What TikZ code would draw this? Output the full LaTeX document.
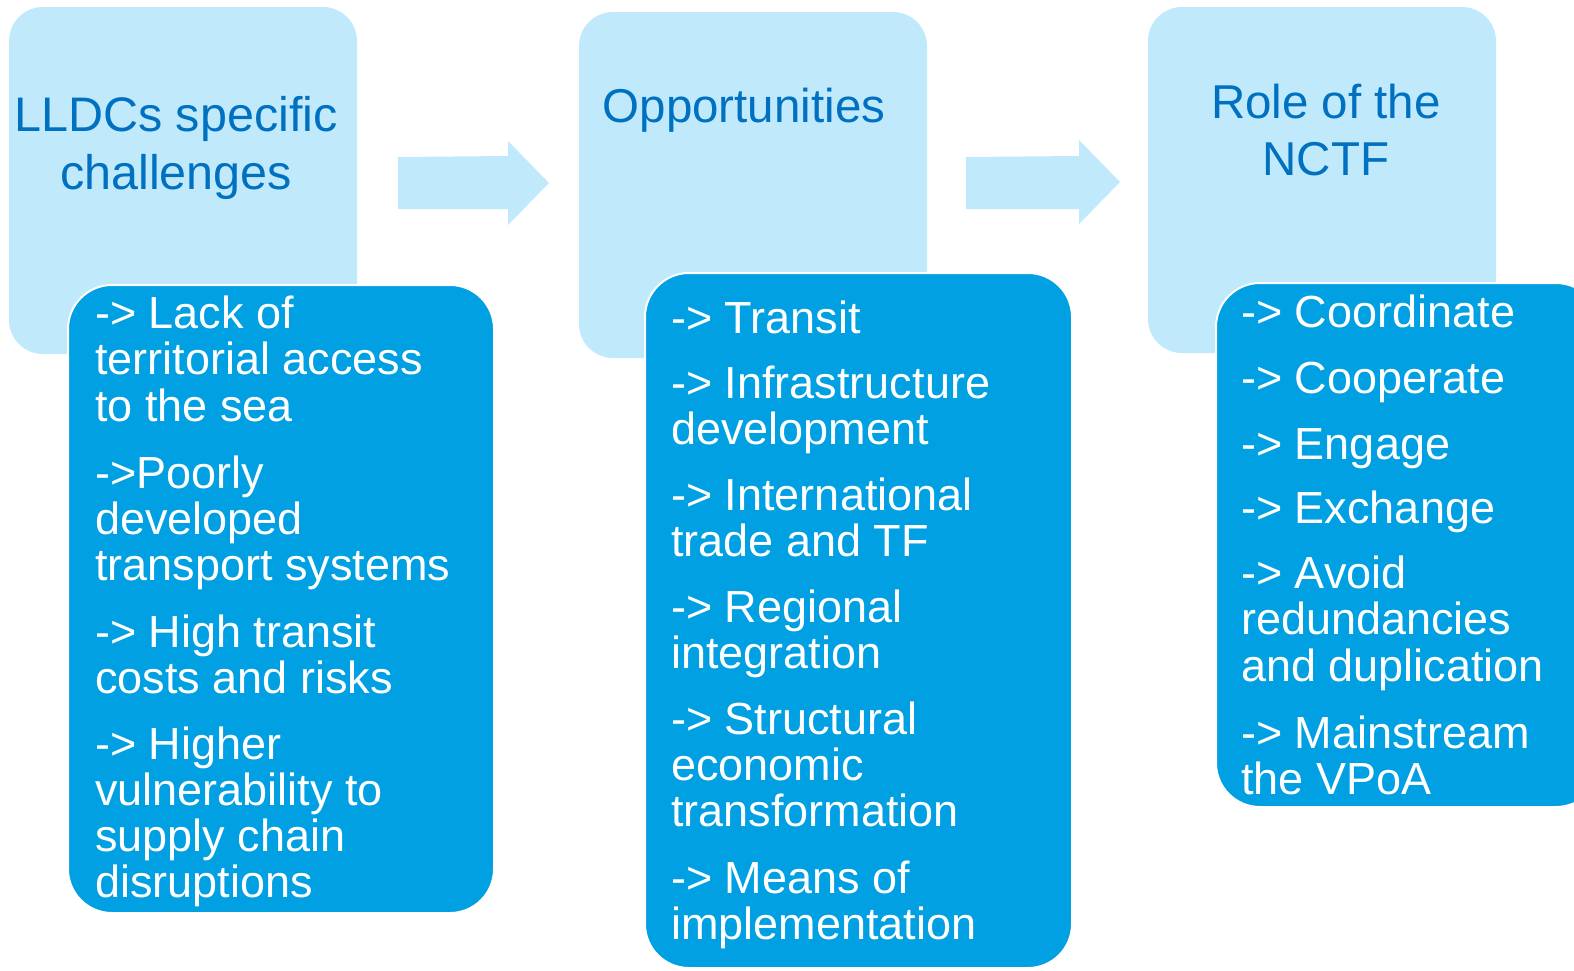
\documentclass[tikz,border=0pt]{standalone}
\usepackage{fontspec}
\setmainfont{Liberation Sans}
\definecolor{lightblue}{RGB}{192,233,252}
\definecolor{darkblue}{RGB}{0,160,227}
\definecolor{titleblue}{RGB}{0,112,192}
\begin{document}
\begin{tikzpicture}[x=1pt,y=-1pt,
  lightbox/.style={fill=lightblue, draw=none, rounded corners=34pt},
  darkbox/.style={fill=darkblue, draw=white, line width=2pt, rounded corners=44pt},
  flowarrow/.style={fill=lightblue, draw=none},
  bodyline/.style={anchor=base west, inner sep=0pt, text=white, font=\fontsize{45}{46}\selectfont},
  titleline/.style={anchor=base, inner sep=0pt, text=titleblue}
]
\useasboundingbox (0,0) rectangle (1574,970);
% light title boxes
\path[lightbox] (9,7) rectangle (357,354);
\path[lightbox] (579,12) rectangle (927,358);
\path[lightbox] (1148,7) rectangle (1496,353);
% arrows
\path[flowarrow] (398,157) -- (508,156) -- (508,141) -- (549,183) -- (508,225) -- (508,209) -- (398,209) -- cycle;
\path[flowarrow] (966,157) -- (1079,156) -- (1079,140) -- (1120,182) -- (1079,224) -- (1079,209) -- (966,209) -- cycle;
% dark content boxes
\path[darkbox] (68,285) rectangle (494,913);
\path[darkbox] (645,273) rectangle (1072,968);
\path[darkbox] (1216,283) rectangle (1600,807);
% titles
\node[titleline, font=\fontsize{48.5}{52}\selectfont] (t1a) at (176,131) {LLDCs specific};
\node[titleline, font=\fontsize{48.5}{52}\selectfont] (t1b) at (176,189) {challenges};
\node[titleline, font=\fontsize{47.5}{52}\selectfont] (t2a) at (744,122) {Opportunities};
\node[titleline, font=\fontsize{47.5}{52}\selectfont] (t3a) at (1326,118) {Role of the};
\node[titleline, font=\fontsize{47.5}{52}\selectfont] (t3b) at (1326,175) {NCTF};
% box 1 text
\foreach \t/\y [count=\i] in {
  {-> Lack of}/328, {territorial access}/374, {to the sea}/421,
  {->Poorly}/488, {developed}/534, {transport systems}/580,
  {-> High transit}/647, {costs and risks}/693,
  {-> Higher}/759, {vulnerability to}/805, {supply chain}/851, {disruptions}/897}
  \node[bodyline] (a\i) at (95,\y) {\t};
% box 2 text
\foreach \t/\y [count=\i] in {
  {-> Transit}/333,
  {-> Infrastructure}/398, {development}/444,
  {-> International}/510, {trade and TF}/556,
  {-> Regional}/622, {integration}/668,
  {-> Structural}/734, {economic}/780, {transformation}/826,
  {-> Means of}/893, {implementation}/939}
  \node[bodyline] (b\i) at (671,\y) {\t};
% box 3 text
\foreach \t/\y [count=\i] in {
  {-> Coordinate}/327, {-> Cooperate}/393, {-> Engage}/459, {-> Exchange}/523,
  {-> Avoid}/588, {redundancies}/634, {and duplication}/681,
  {-> Mainstream}/748, {the VPoA}/794}
  \node[bodyline] (c\i) at (1241,\y) {\t};
\end{tikzpicture}
\end{document}
